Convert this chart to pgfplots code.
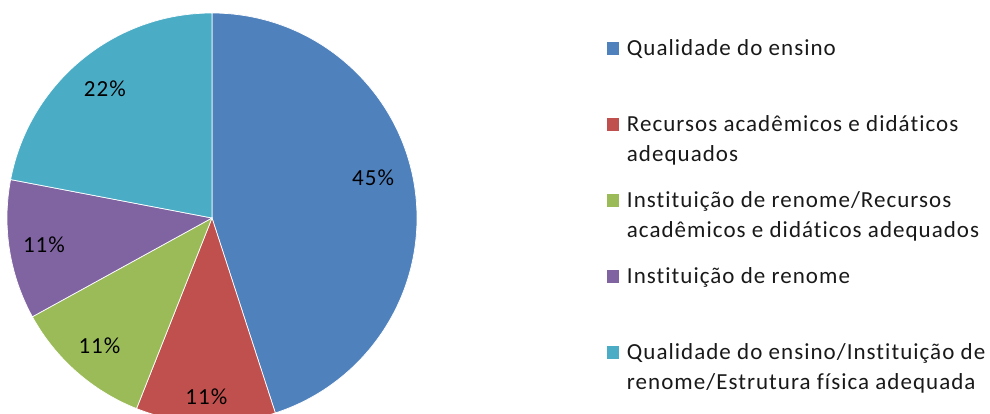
\documentclass[border=0pt]{standalone}
\usepackage{pgfplots}
\usepackage{pgfplotstable}
\pgfplotsset{compat=1.18}
\usepackage{fontspec}
\setmainfont[LetterSpace=4.5, Ligatures={NoCommon}]{Carlito}
\definecolor{c1}{HTML}{4F81BD}
\definecolor{c2}{HTML}{C0504D}
\definecolor{c3}{HTML}{9BBB59}
\definecolor{c4}{HTML}{8064A2}
\definecolor{c5}{HTML}{4BACC6}
\pgfplotstableread{
value col lrad laboff
45 c1 0.81 5
11 c2 0.87 0
11 c3 0.83 0
11 c4 0.83 0
22 c5 0.82 0
}\piedata
\begin{document}
\fontsize{23bp}{30bp}\selectfont%
\begin{tikzpicture}
\pgfmathsetmacro\curang{90}
\pgfplotsforeachungrouped \i in {0,...,4}{%
  \pgfplotstablegetelem{\i}{value}\of\piedata \let\val\pgfplotsretval
  \pgfplotstablegetelem{\i}{col}\of\piedata \let\colr\pgfplotsretval
  \pgfplotstablegetelem{\i}{lrad}\of\piedata \let\lr\pgfplotsretval
  \pgfplotstablegetelem{\i}{laboff}\of\piedata \let\lo\pgfplotsretval
  \pgfmathsetmacro\endang{\curang-3.6*\val}
  \pgfmathsetmacro\midang{(\curang+\endang)/2+\lo}
  \pgfmathsetmacro\lx{212+\lr*205*cos(\midang)}
  \pgfmathsetmacro\ly{196+\lr*205*sin(\midang)}
  \expandafter\xdef\csname sa\i\endcsname{\curang}%
  \expandafter\xdef\csname ea\i\endcsname{\endang}%
  \expandafter\xdef\csname col\i\endcsname{\colr}%
  \expandafter\xdef\csname lx\i\endcsname{\lx}%
  \expandafter\xdef\csname ly\i\endcsname{\ly}%
  \expandafter\xdef\csname lab\i\endcsname{\val}%
  \global\let\curang\endang
}
\path[use as bounding box] (0,0) rectangle (990bp,414bp);
\begin{axis}[
  at={(0,0)}, anchor=south west,
  scale only axis, width=990bp, height=414bp,
  xmin=0, xmax=990, ymin=0, ymax=414,
  enlargelimits=false,
  hide axis, clip=true,
  legend cell align=left,
  legend image code/.code={\fill[#1, draw=none] (0bp,1bp) rectangle (12.5bp,13.5bp);},
  legend style={draw=none, fill=none, inner sep=0pt, outer sep=0pt,
    at={(0.6131,0.9179)}, anchor=north west,
    column sep=7.5bp, row sep=0pt,
    cells={anchor=base west},
    nodes={inner sep=0pt, text height=22bp, text depth=54bp, text=black!90},
    font=\fontsize{23bp}{30bp}\selectfont},
]
\pgfplotsinvokeforeach{0,...,4}{
  \fill[\csname col#1\endcsname, draw=white, line width=0.7bp]
    (axis cs:212,196) -- ++(\csname sa#1\endcsname:205bp)
    arc[start angle=\csname sa#1\endcsname, end angle=\csname ea#1\endcsname, radius=205bp] -- cycle;
}
\pgfplotsinvokeforeach{0,...,4}{
  \node[font=\fontsize{23bp}{30bp}\selectfont, text=black] at (axis cs:\csname lx#1\endcsname,\csname ly#1\endcsname) {\csname lab#1\endcsname\%};
}
\addlegendimage{fill=c1, draw=none}
\addlegendentry{\parbox[t]{380bp}{Qualidade do ensino}}
\addlegendimage{fill=c2, draw=none}
\addlegendentry{\parbox[t]{380bp}{Recursos acadêmicos e didáticos\\adequados}}
\addlegendimage{fill=c3, draw=none}
\addlegendentry{\parbox[t]{380bp}{Instituição de renome/Recursos\\acadêmicos e didáticos adequados}}
\addlegendimage{fill=c4, draw=none}
\addlegendentry{\parbox[t]{380bp}{Instituição de renome}}
\addlegendimage{fill=c5, draw=none}
\addlegendentry{\parbox[t]{380bp}{Qualidade do ensino/Instituição de\\renome/Estrutura física adequada}}
\end{axis}
\end{tikzpicture}
\end{document}
